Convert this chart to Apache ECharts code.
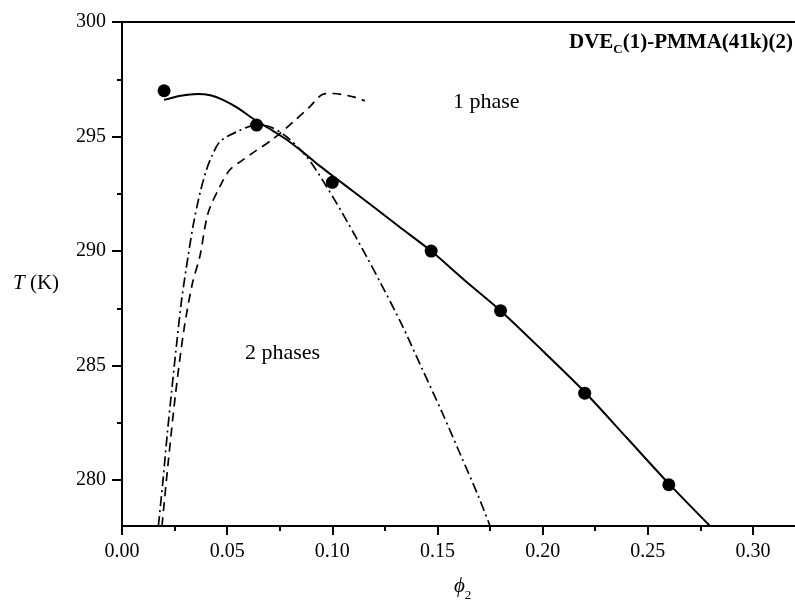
<!DOCTYPE html>
<html><head><meta charset="utf-8">
<script src="https://cdn.jsdelivr.net/npm/echarts@6/dist/echarts.min.js"></script>
<style>html,body{margin:0;padding:0;background:#fff}#c{width:795px;height:606px}</style>
</head><body><div id="c"></div>
<script>
// tick values
const xMajorTicks = [0, 0.05, 0.10, 0.15, 0.20, 0.25, 0.30];
const xMinorTicks = [0.025, 0.075, 0.125, 0.175, 0.225, 0.275];
const yMajorTicks = [280, 285, 290, 295, 300];
const yMinorTicks = [282.5, 287.5, 292.5, 297.5];

// experimental cloud points
const expPhi = [0.020, 0.064, 0.100, 0.147, 0.180, 0.220, 0.260];
const expT   = [297.0, 295.5, 293.0, 290.0, 287.4, 283.8, 279.8];

// solid curve
const solidPhi = [0.020, 0.028, 0.036, 0.042, 0.048, 0.055, 0.062, 0.070, 0.078, 0.086, 0.094, 0.102, 0.110, 0.120, 0.132, 0.147, 0.163, 0.180, 0.200, 0.220, 0.240, 0.260, 0.2796];
const solidT   = [296.6, 296.78, 296.86, 296.8, 296.6, 296.25, 295.8, 295.35, 294.88, 294.32, 293.72, 293.16, 292.6, 291.9, 291.05, 290.0, 288.72, 287.4, 285.65, 283.85, 281.85, 279.85, 278.0];

// dash-dot curve
const dashDotPhi = [0.0173, 0.0195, 0.0215, 0.0235, 0.0258, 0.0284, 0.0314, 0.0340, 0.0370, 0.0400, 0.0425, 0.0465, 0.0544, 0.0640, 0.0703, 0.0782, 0.0878, 0.0973, 0.1070, 0.1163, 0.1234, 0.1330, 0.1425, 0.1520, 0.1610, 0.1690, 0.1750];
const dashDotT   = [278.0, 280.0, 282.0, 283.8, 285.8, 287.9, 289.76, 291.2, 292.5, 293.5, 294.1, 294.77, 295.2, 295.5, 295.43, 294.99, 294.12, 292.81, 291.3, 289.76, 288.53, 286.8, 284.9, 283.0, 281.1, 279.4, 278.0];

// dashed curve
const dashedPhi = [0.0190, 0.0220, 0.0255, 0.0295, 0.0335, 0.0370, 0.0409, 0.0465, 0.0512, 0.0570, 0.0624, 0.0719, 0.0814, 0.0893, 0.0957, 0.1004, 0.1100, 0.1155];
const dashedT   = [278.0, 280.8, 283.8, 286.6, 288.6, 289.76, 291.65, 292.81, 293.54, 293.95, 294.3, 294.9, 295.64, 296.3, 296.85, 296.88, 296.73, 296.56];

const pairs = (a, b) => a.map((v, i) => [v, b[i]]);
const FONT = 'Liberation Serif';
const BLACK = '#000';

const chart = echarts.init(document.getElementById('c'), null, {renderer: 'canvas'});
const axisLineStyle = {color: BLACK, width: 2};

chart.setOption({
  animation: false,
  backgroundColor: '#fff',
  grid: {left: 122, right: 0, top: 22, bottom: 80, containLabel: false, outerBoundsMode: 'none'},
  xAxis: [
    {type: 'value', min: 0, max: 0.32, position: 'bottom',
     axisLine: {show: true, onZero: false, lineStyle: axisLineStyle},
     axisTick: {show: true, length: 9, lineStyle: {color: BLACK, width: 2}, customValues: xMajorTicks},
     axisLabel: {show: true, customValues: xMajorTicks, formatter: v => v.toFixed(2), fontFamily: FONT, fontSize: 20, color: BLACK, margin: 16},
     splitLine: {show: false}},
    {type: 'value', min: 0, max: 0.32, position: 'bottom',
     axisLine: {show: false},
     axisTick: {show: true, length: 5, lineStyle: {color: BLACK, width: 2}, customValues: xMinorTicks},
     axisLabel: {show: false}, splitLine: {show: false}},
    {type: 'value', min: 0, max: 0.32, position: 'top',
     axisLine: {show: true, onZero: false, lineStyle: axisLineStyle},
     axisTick: {show: false}, axisLabel: {show: false}, splitLine: {show: false}}
  ],
  yAxis: [
    {type: 'value', min: 278, max: 300, position: 'left',
     axisLine: {show: true, onZero: false, lineStyle: axisLineStyle},
     axisTick: {show: true, length: 10, lineStyle: {color: BLACK, width: 2}, customValues: yMajorTicks},
     axisLabel: {show: true, customValues: yMajorTicks, fontFamily: FONT, fontSize: 20, color: BLACK, margin: 16},
     splitLine: {show: false}},
    {type: 'value', min: 278, max: 300, position: 'left',
     axisLine: {show: false},
     axisTick: {show: true, length: 5, lineStyle: {color: BLACK, width: 2}, customValues: yMinorTicks},
     axisLabel: {show: false}, splitLine: {show: false}}
  ],
  series: [
    {type: 'line', name: 'cloud', data: pairs(solidPhi, solidT), showSymbol: false, symbol: 'none', smooth: 0.3,
     lineStyle: {color: BLACK, width: 2, type: 'solid'}, z: 3},
    {type: 'line', name: 'dashdot', data: pairs(dashDotPhi, dashDotT), showSymbol: false, symbol: 'none', smooth: 0.3,
     lineStyle: {color: BLACK, width: 1.7, type: [10, 4, 2, 4]}, z: 2},
    {type: 'line', name: 'dashed', data: pairs(dashedPhi, dashedT), showSymbol: false, symbol: 'none', smooth: 0.3,
     lineStyle: {color: BLACK, width: 1.7, type: [9, 6]}, z: 2},
    {type: 'scatter', name: 'exp', data: pairs(expPhi, expT), symbol: 'circle', symbolSize: 13,
     itemStyle: {color: BLACK, opacity: 1}, emphasis: {disabled: true}, z: 4}
  ],
  graphic: [
    {type: 'text', right: 2, top: 32, style: {
      text: '{b|DVE}{s|C}{b|(1)-PMMA(41k)(2)}',
      rich: {
        b: {fontFamily: FONT, fontWeight: 'bold', fontSize: 21, lineHeight: 24, verticalAlign: 'top', fill: BLACK},
        s: {fontFamily: FONT, fontWeight: 'bold', fontSize: 13, lineHeight: 13, verticalAlign: 'bottom', fill: BLACK}
      }
    }},
    {type: 'text', left: 453, top: 91, style: {text: '1 phase', fontFamily: FONT, fontSize: 22, fill: BLACK}},
    {type: 'text', left: 245, top: 342, style: {text: '2 phases', fontFamily: FONT, fontSize: 22, fill: BLACK}},
    {type: 'text', left: 13, top: 273, style: {
      text: '{i|T} (K)', fontFamily: FONT, fontSize: 21, fill: BLACK,
      rich: {i: {fontFamily: FONT, fontStyle: 'italic', fontSize: 21, fill: BLACK}}
    }},
    {type: 'text', left: 454, top: 576, style: {
      text: '{i|ϕ}{s|2}',
      rich: {
        i: {fontFamily: FONT, fontStyle: 'italic', fontSize: 21, lineHeight: 26, verticalAlign: 'top', fill: BLACK},
        s: {fontFamily: FONT, fontSize: 13, lineHeight: 13, verticalAlign: 'bottom', fill: BLACK}
      }
    }}
  ]
});
</script></body></html>
